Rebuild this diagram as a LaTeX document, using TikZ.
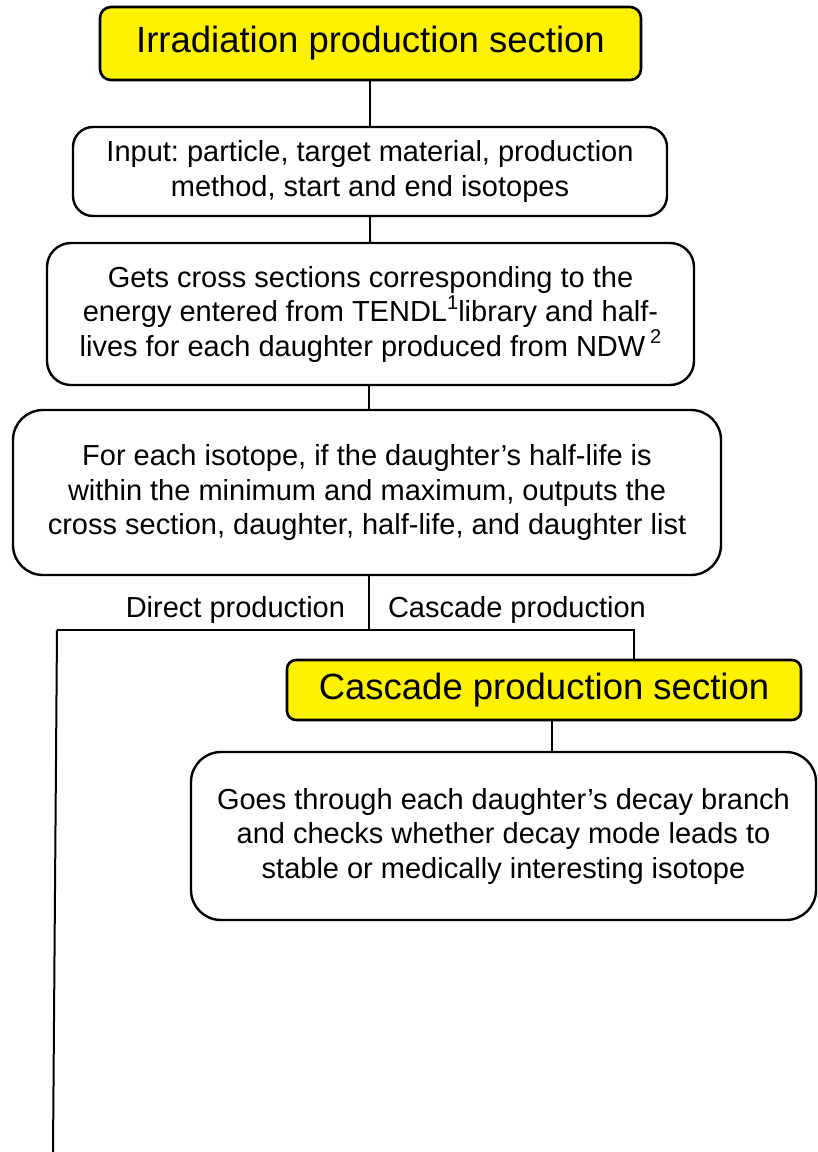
\documentclass[tikz,border=0pt]{standalone}
\usepackage{fontspec}
\setmainfont{Liberation Sans}
\frenchspacing
% raised footnote-style reference marks
\newcommand{\refmark}[1]{\raisebox{0.42em}{\fontsize{20}{20}\selectfont #1}}
\begin{document}
\begin{tikzpicture}[x=1pt,y=-1pt,
  every node/.style={inner sep=0pt, outer sep=0pt},
  titlebox/.style={draw=black, line width=2.6pt, fill=yellow, rounded corners=11pt,
    anchor=north west, font=\fontsize{36.5}{42}\selectfont},
  stepbox/.style={draw=black, line width=2.4pt, fill=white, rounded corners=24pt,
    anchor=north west, align=center, font=\fontsize{29}{34.5}\selectfont},
  link/.style={draw=black, line width=2pt},
  lbl/.style={font=\fontsize{29}{34.5}\selectfont}]
\useasboundingbox (0,0) rectangle (818,1152);

% main column
\node[titlebox, minimum width=541pt, minimum height=73pt] (irr) at (100,7)
  {Irradiation production section};
\node[stepbox, minimum width=594pt, minimum height=89pt, rounded corners=20pt] (inp) at (73,127)
  {Input: particle, target material, production\\method, start and end isotopes};
\node[stepbox, minimum width=647pt, minimum height=142pt] (xs) at (47,243)
  {Gets cross sections corresponding to the\\
   energy entered from TENDL\refmark{1}library and half-\\
   lives for each daughter produced from NDW\,\refmark{2}};
\node[stepbox, minimum width=708pt, minimum height=165pt, rounded corners=30pt] (flt) at (13,410)
  {\rule{0pt}{8pt}For each isotope, if the daughter’s half-life is\\
   within the minimum and maximum, outputs the\\
   cross section, daughter, half-life, and daughter list};

% cascade branch
\node[titlebox, minimum width=514pt, minimum height=60pt, rounded corners=9pt] (cas) at (287,660)
  {Cascade production section};
\node[stepbox, minimum width=625pt, minimum height=168pt, rounded corners=30pt] (dec) at (191,752)
  {Goes through each daughter’s decay branch\\
   and checks whether decay mode leads to\\
   stable or medically interesting isotope};

% branch points
\coordinate (split) at (369,630);
\coordinate (lft) at (57,630);
\coordinate (rgt) at (634,630);
\coordinate (down) at (53,1152);

% connectors
\draw[link] (irr.south -| 370,0) -- (inp.north -| 370,0);
\draw[link] (inp.south -| 370,0) -- (xs.north -| 370,0);
\draw[link] (xs.south -| 369,0) -- (flt.north -| 369,0);
\draw[link] (flt.south -| split) -- (split);
\draw[link] (lft) -- (rgt) -- (rgt |- cas.north);
\draw[link] (lft) -- (down);
\draw[link] (cas.south -| 552,0) -- (dec.north -| 552,0);

% branch labels
\node[lbl, anchor=base east] (ldir) at (345,617) {Direct production};
\node[lbl, anchor=base west] (lcas) at (388,617) {Cascade production};
\end{tikzpicture}
\end{document}
